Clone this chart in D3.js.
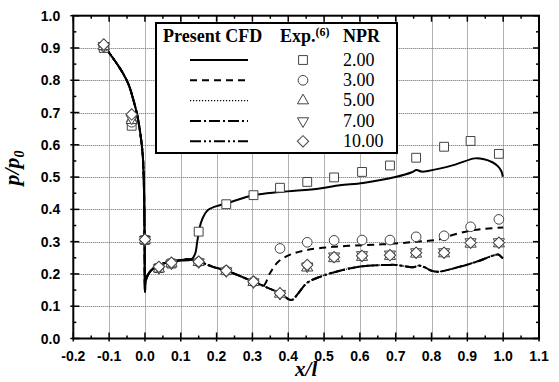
<!DOCTYPE html>
<html>
<head>
<meta charset="utf-8">
<script src="https://cdn.jsdelivr.net/npm/d3@7/dist/d3.min.js"></script>
<style>
  body { margin: 0; background: #fff; }
</style>
</head>
<body>
<script>
/*
 * wall pressure ratio p/p0 along x/l : CFD lines vs experiment symbols, 5 NPRs
 */

// tick labels
var xTicks = [-0.2, -0.1, 0.0, 0.1, 0.2, 0.3, 0.4, 0.5, 0.6, 0.7, 0.8, 0.9, 1.0, 1.1];
var yTicks = [0.0, 0.1, 0.2, 0.3, 0.4, 0.5, 0.6, 0.7, 0.8, 0.9, 1.0];
var xMinor = [-0.15, -0.05, 0.05, 0.15, 0.25, 0.35, 0.45, 0.55, 0.65, 0.75, 0.85, 0.95, 1.05];
var yMinor = [0.05, 0.15, 0.25, 0.35, 0.45, 0.55, 0.65, 0.75, 0.85, 0.95];

// legend categories
var nprLabels = ["2.00", "3.00", "5.00", "7.00", "10.00"];

// experimental stations (x/l) and measured p/p0 for each NPR
var expX     = [-0.115, -0.037, 0.0, 0.039, 0.074, 0.150, 0.227, 0.303, 0.377, 0.453, 0.528, 0.606, 0.684, 0.757, 0.835, 0.909, 0.988];
var expNPR2  = [0.900, 0.659, 0.305, 0.218, 0.232, 0.331, 0.416, 0.444, 0.467, 0.485, 0.499, 0.516, 0.536, 0.560, 0.594, 0.612, 0.572];
var expNPR3  = [0.905, 0.670, 0.305, 0.220, 0.234, 0.237, 0.210, 0.176, 0.279, 0.298, 0.304, 0.305, 0.305, 0.315, 0.318, 0.346, 0.369];
var expNPR5  = [0.905, 0.676, 0.305, 0.216, 0.232, 0.236, 0.208, 0.174, 0.138, 0.219, 0.248, 0.252, 0.255, 0.262, 0.263, 0.293, 0.294];
var expNPR7  = [0.907, 0.682, 0.306, 0.219, 0.233, 0.237, 0.209, 0.175, 0.139, 0.224, 0.255, 0.259, 0.261, 0.268, 0.268, 0.299, 0.299];
var expNPR10 = [0.911, 0.694, 0.307, 0.222, 0.235, 0.238, 0.210, 0.176, 0.140, 0.228, 0.252, 0.256, 0.258, 0.266, 0.266, 0.297, 0.297];

// CFD: part shared by all NPRs (upstream and the lip)
var cfdUpstream = [[-0.112, 0.903], [-0.085, 0.862], [-0.061, 0.821], [-0.045, 0.785], [-0.033, 0.742],
    [-0.022, 0.694], [-0.013, 0.636], [-0.006, 0.565], [-0.003, 0.480], [-0.001, 0.300], [0.0, 0.145],
    [0.002, 0.178], [0.008, 0.197], [0.023, 0.217], [0.050, 0.232], [0.088, 0.241], [0.130, 0.245]];
// NPR 2 separates right after the lip
var cfdNPR2Tail = [[0.140, 0.262], [0.146, 0.300], [0.152, 0.340], [0.160, 0.370], [0.176, 0.398], [0.209, 0.413],
    [0.226, 0.418], [0.303, 0.444], [0.377, 0.454], [0.488, 0.465], [0.544, 0.475], [0.609, 0.482],
    [0.702, 0.501], [0.745, 0.515], [0.758, 0.522], [0.772, 0.517], [0.790, 0.519], [0.861, 0.537],
    [0.921, 0.558], [0.944, 0.556], [0.970, 0.546], [0.985, 0.534], [0.995, 0.518], [0.999, 0.501]];
// decreasing branch shared by NPR 3..10
var cfdDownTail = [[0.150, 0.239], [0.190, 0.222], [0.227, 0.210], [0.303, 0.176], [0.330, 0.163]];
var cfdNPR3Tail = [[0.349, 0.202], [0.372, 0.238], [0.404, 0.259], [0.451, 0.274], [0.525, 0.284], [0.609, 0.289],
    [0.684, 0.293], [0.758, 0.300], [0.823, 0.307], [0.842, 0.315], [0.907, 0.334], [0.950, 0.340], [1.0, 0.344]];
var cfdLowTail = [[0.377, 0.140], [0.409, 0.119], [0.428, 0.140], [0.451, 0.171], [0.488, 0.191], [0.544, 0.210],
    [0.609, 0.224], [0.684, 0.228], [0.700, 0.228], [0.735, 0.222], [0.750, 0.221], [0.765, 0.226],
    [0.780, 0.221], [0.800, 0.210], [0.819, 0.207], [0.861, 0.217], [0.926, 0.238], [0.975, 0.258],
    [0.986, 0.260], [0.999, 0.248]];

var cfdNPR2  = cfdUpstream.concat(cfdNPR2Tail);
var cfdNPR3  = cfdUpstream.concat(cfdDownTail, cfdNPR3Tail);
var cfdNPR5  = cfdUpstream.concat(cfdDownTail, cfdLowTail);
var cfdNPR7  = cfdUpstream.concat(cfdDownTail, cfdLowTail);
var cfdNPR10 = cfdUpstream.concat(cfdDownTail, cfdLowTail);

var width = 559, height = 382;
var svg = d3.select("body").append("svg")
    .attr("width", width)
    .attr("height", height);

var x = d3.scaleLinear().domain([-0.2, 1.1]).range([73.3, 539]);
var y = d3.scaleLinear().domain([0, 1]).range([338.5, 15.7]);

// dotted grid
var grid = svg.append("g").attr("stroke", "#666").attr("stroke-width", 1).attr("stroke-dasharray", "1,1");
grid.selectAll("line.gx").data(xTicks.slice(1, -1)).enter().append("line")
    .attr("x1", function(d) { return Math.round(x(d)) + 0.5; })
    .attr("x2", function(d) { return Math.round(x(d)) + 0.5; })
    .attr("y1", y(0)).attr("y2", y(1));
grid.selectAll("line.gy").data(yTicks.slice(1, -1)).enter().append("line")
    .attr("y1", function(d) { return Math.round(y(d)) + 0.5; })
    .attr("y2", function(d) { return Math.round(y(d)) + 0.5; })
    .attr("x1", x(-0.2)).attr("x2", x(1.1));

// styles per NPR
var lineStyles = [
    {data: cfdNPR2,  dash: null,             w: 2},
    {data: cfdNPR3,  dash: "7,5",            w: 2},
    {data: cfdNPR5,  dash: "1.2,1.8",        w: 1.2},
    {data: cfdNPR7,  dash: "11,3,2,3",       w: 2},
    {data: cfdNPR10, dash: "11,3,2,3,2,3",   w: 2}
];

var line = d3.line()
    .x(function(d) { return x(d[0]); })
    .y(function(d) { return y(d[1]); })
    .curve(d3.curveCatmullRom.alpha(0.5));

svg.append("g").selectAll("path").data(lineStyles).enter().append("path")
    .attr("d", function(d) { return line(d.data); })
    .attr("fill", "none")
    .attr("stroke", "#000")
    .attr("stroke-width", function(d) { return d.w; })
    .attr("stroke-linejoin", "round")
    .attr("stroke-dasharray", function(d) { return d.dash; });

// markers
var sq  = d3.symbol().type(d3.symbolSquare).size(78);
var cir = d3.symbol().type(d3.symbolCircle).size(74);
var tri = d3.symbol().type(d3.symbolTriangle).size(54);
var dia = d3.symbol().type(d3.symbolSquare).size(64);

var markerStyles = [
    {vals: expNPR2,  path: sq(),  rot: 0},
    {vals: expNPR3,  path: cir(), rot: 0},
    {vals: expNPR5,  path: tri(), rot: 0},
    {vals: expNPR7,  path: tri(), rot: 180},
    {vals: expNPR10, path: dia(), rot: 45}
];

markerStyles.forEach(function(m) {
    svg.append("g").selectAll("path").data(m.vals).enter().append("path")
        .attr("d", m.path)
        .attr("transform", function(d, i) {
            return "translate(" + x(expX[i]) + "," + y(d) + ") rotate(" + m.rot + ")";
        })
        .attr("fill", "#fff")
        .attr("stroke", "#444")
        .attr("stroke-width", 1);
});

// frame
svg.append("rect")
    .attr("x", x(-0.2)).attr("y", y(1))
    .attr("width", x(1.1) - x(-0.2)).attr("height", y(0) - y(1))
    .attr("fill", "none").attr("stroke", "#000").attr("stroke-width", 2);

// ticks, all four sides, pointing in
var ticks = svg.append("g").attr("stroke", "#000").attr("stroke-width", 1.5);
function tickSet(vals, len, out) {
    ticks.append("g").selectAll("line").data(vals).enter().append("line")
        .attr("x1", function(d) { return x(d); }).attr("x2", function(d) { return x(d); })
        .attr("y1", y(0) + out).attr("y2", y(0) - len);
    ticks.append("g").selectAll("line").data(vals).enter().append("line")
        .attr("x1", function(d) { return x(d); }).attr("x2", function(d) { return x(d); })
        .attr("y1", y(1)).attr("y2", y(1) + len);
}
function tickSetY(vals, len, out) {
    ticks.append("g").selectAll("line").data(vals).enter().append("line")
        .attr("y1", function(d) { return y(d); }).attr("y2", function(d) { return y(d); })
        .attr("x1", x(-0.2) - out).attr("x2", x(-0.2) + len);
    ticks.append("g").selectAll("line").data(vals).enter().append("line")
        .attr("y1", function(d) { return y(d); }).attr("y2", function(d) { return y(d); })
        .attr("x1", x(1.1)).attr("x2", x(1.1) - len);
}
tickSet(xTicks, 6, 3);
tickSet(xMinor, 3, 0);
tickSetY(yTicks, 6, 3);
tickSetY(yMinor, 3, 0);

// tick labels
svg.append("g").selectAll("text").data(xTicks).enter().append("text")
    .attr("x", function(d) { return x(d); })
    .attr("y", y(0) + 22.5)
    .attr("text-anchor", "middle")
    .style("font", "bold 14px 'Liberation Sans', Arial, sans-serif")
    .text(function(d) { return d.toFixed(1); });

svg.append("g").selectAll("text").data(yTicks).enter().append("text")
    .attr("x", x(-0.2) - 13)
    .attr("y", function(d) { return y(d); })
    .attr("dy", "0.36em")
    .attr("text-anchor", "end")
    .style("font", "bold 14px 'Liberation Sans', Arial, sans-serif")
    .text(function(d) { return d.toFixed(1); });

// axis titles
svg.append("text")
    .attr("x", (x(-0.2) + x(1.1)) / 2)
    .attr("y", 376)
    .attr("text-anchor", "middle")
    .style("font", "italic bold 21px 'Liberation Serif', 'Times New Roman', serif")
    .text("x/l");

var yt = svg.append("text")
    .attr("transform", "translate(19,168) rotate(-90)")
    .attr("text-anchor", "middle")
    .style("font", "italic bold 22px 'Liberation Serif', 'Times New Roman', serif");
yt.append("tspan").text("p/p");
yt.append("tspan").attr("dy", 5).style("font-size", "14px").text("0");

// legend
var lg = svg.append("g");
lg.append("rect")
    .attr("x", 156).attr("y", 23)
    .attr("width", 241).attr("height", 130)
    .attr("fill", "#fff").attr("stroke", "#000").attr("stroke-width", 2);

var serifBold = "bold 18px 'Liberation Serif', 'Times New Roman', serif";
lg.append("text").attr("x", 163).attr("y", 42).style("font", serifBold).text("Present CFD");
var ex = lg.append("text").attr("x", 280).attr("y", 42).style("font", serifBold);
ex.append("tspan").text("Exp.");
ex.append("tspan").attr("dy", -6).style("font-size", "12px").text("(6)");
lg.append("text").attr("x", 343).attr("y", 42).style("font", serifBold).text("NPR");

var rowY = [60, 80.3, 100.6, 121, 141.3];
lineStyles.forEach(function(s, i) {
    lg.append("line")
        .attr("x1", 190).attr("x2", 248)
        .attr("y1", rowY[i]).attr("y2", rowY[i])
        .attr("stroke", "#000")
        .attr("stroke-width", s.w)
        .attr("stroke-dasharray", s.dash);
    lg.append("path")
        .attr("d", markerStyles[i].path)
        .attr("transform", "translate(303," + rowY[i] + ") rotate(" + markerStyles[i].rot + ")")
        .attr("fill", "#fff").attr("stroke", "#444").attr("stroke-width", 1);
    lg.append("text")
        .attr("x", 343).attr("y", rowY[i] + 5.5)
        .style("font", "18px 'Liberation Serif', 'Times New Roman', serif")
        .text(nprLabels[i]);
});
</script>
</body>
</html>
